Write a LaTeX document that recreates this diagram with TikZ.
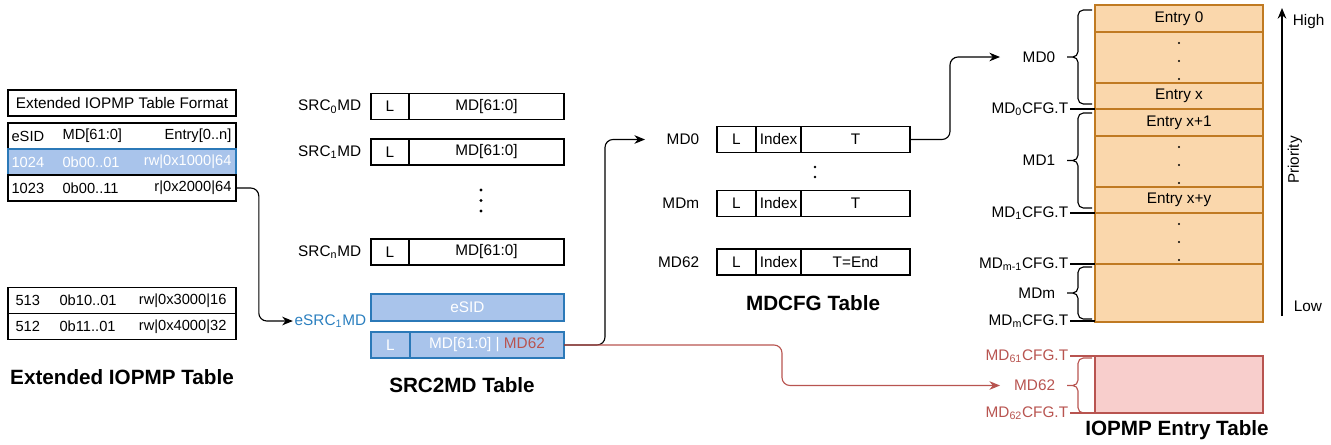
\documentclass[tikz,border=0pt]{standalone}
\usepackage{fontspec}
\setmainfont{Liberation Sans}
\usepackage{tikz}
\usetikzlibrary{arrows.meta,positioning,calc}
\definecolor{tblBlue}{HTML}{A9C4EB}
\definecolor{tblEdge}{HTML}{2B79B8}
\definecolor{srcText}{HTML}{2B7FBF}
\definecolor{mdRed}{HTML}{B85450}
\definecolor{mdRedFill}{HTML}{F8CECC}
\definecolor{entFill}{HTML}{FAD7AC}
\definecolor{entEdge}{HTML}{C07A22}
\newcommand{\upx}{0.75pt}
\newcommand{\txt}{\fontsize{11.5}{13}\selectfont}
\newcommand{\smalltxt}{\fontsize{11}{12}\selectfont}
\newcommand{\ttl}{\bfseries\fontsize{15.5}{18}\selectfont}

\begin{document}
\begin{tikzpicture}[x=0.75pt,y=-0.75pt,>={Stealth[length=8pt,width=6.5pt]},line width=0.85pt,
  box/.style={draw,outer sep=0pt,inner sep=0pt,minimum height=26*\upx,font=\txt},
  bluebox/.style={box,draw=tblEdge,fill=tblBlue,text=white},
  row/.style={draw,outer sep=0pt,inner sep=0pt,minimum width=228*\upx,minimum height=26*\upx},
  cellt/.style={font=\smalltxt,inner sep=0pt},
  lbl/.style={font=\txt,inner sep=1pt},
  heading/.style={font=\ttl},
  entry/.style={draw=entEdge,fill=entFill,outer sep=0pt,inner sep=0pt,minimum width=168*\upx,font=\txt},
  link/.style={->,rounded corners=6pt}]
  \useasboundingbox (0,0) rectangle (1331,444);

  % extended IOPMP table
  \node[row,font=\txt] (fmt) at (122,103) {Extended IOPMP Table Format};
  \node[row] (hd) at (122,136) {};
  \node[row,draw=tblEdge,fill=tblBlue] (r1) at (122,162) {};
  \node[row] (r2) at (122,188) {};
  \node[row] (r3) at (122,300.5) {};
  \node[row] (r4) at (122,326.5) {};
  \foreach \r/\a/\b/\c/\col in {hd/eSID/MD[61:0]/Entry[0..n]/black,
      r1/1024/0b00..01/rw|0x1000|64/white, r2/1023/0b00..11/r|0x2000|64/black} {
    \node[cellt,text=\col,anchor=west] at ($(\r.west)+(3,0)$) {\a};
    \node[cellt,text=\col,anchor=west] at ($(\r.west)+(54,0)$) {\b};
    \node[cellt,text=\col,anchor=east] at ($(\r.east)+(-4,0)$) {\c};
  }
  \foreach \r/\a/\b/\c in {r3/513/0b10..01/rw|0x3000|16, r4/512/0b11..01/rw|0x4000|32} {
    \node[cellt,anchor=west] at ($(\r.west)+(7,0)$) {\a};
    \node[cellt,anchor=west] at ($(\r.west)+(51,0)$) {\b};
    \node[cellt,anchor=east] at ($(\r.east)+(-9,0)$) {\c};
  }
  \node[heading] (t1) at (122,377) {Extended IOPMP Table};

  % SRC2MD table
  \foreach \i/\y in {0/106.5,1/152,n/252} {
    \node[box,minimum width=38*\upx] (L\i) at (390,\y) {L};
    \node[box,minimum width=155*\upx,right=0pt of L\i] (M\i) {MD[61:0]};
    \node[lbl,left=6pt of L\i] (S\i) {SRC\textsubscript{\i}MD};
  }
  \foreach \y in {190,200.5,211} \fill (481,\y) circle[radius=1.3pt];
  \node[bluebox,minimum width=193*\upx,minimum height=27*\upx] (eid) at (467.5,307.5) {eSID};
  \node[bluebox,minimum width=39*\upx] (eL) at (390.5,345) {L};
  \node[bluebox,minimum width=154*\upx,right=0pt of eL] (eM) {MD[61:0] | \textcolor{mdRed}{MD62}};
  \node[lbl,text=srcText,anchor=east] (esrc) at (368,321) {eSRC\textsubscript{1}MD};
  \node[heading] (t2) at (462,385) {SRC2MD Table};

  % MDCFG table
  \foreach \i/\y/\lab in {0/139.5/T, m/203.5/T, 62/262/T=End} {
    \node[box,minimum width=39*\upx] (cL\i) at (736.5,\y) {L};
    \node[box,minimum width=45*\upx,right=0pt of cL\i] (cI\i) {Index};
    \node[box,minimum width=109*\upx,right=0pt of cI\i] (cT\i) {\lab};
    \node[lbl,left=12pt of cL\i] (cN\i) {MD\i};
  }
  \foreach \y in {167,177} \fill (815,\y) circle[radius=1pt];
  \node[heading] (t3) at (813,303) {MDCFG Table};

  % IOPMP entry table
  \foreach \nm/\ya/\yb/\lab in {e0/5/32/Entry 0, d0/32/83/, ex/83/109/Entry x,
      ex1/109/136/Entry x+1, d1/136/187/, exy/187/213/Entry x+y, d2/213/264/, eend/264/322/}
    \node[entry,minimum height={(\yb-\ya)*\upx},anchor=north] (\nm) at (1179,\ya) {\lab};
  \foreach \nm in {d0,d1,d2}
    \foreach \k in {11,29,47} \fill ($(\nm.north)+(0,\k)$) circle[radius=0.8pt];
  \node[entry,draw=mdRed,fill=mdRedFill,minimum height=57*\upx,anchor=north] (e62) at (1179,356) {};
  \node[heading] (t4) at (1177,430) {IOPMP Entry Table};

  % brackets and CFG.T marks
  \foreach \ya/\yb/\col in {10/104/black,113/208/black,267/319/black,358/413/mdRed}
    \draw[\col,rounded corners=4pt] (1092,\ya) -| (1078,{(\ya+\yb)/2}) -- (1067,{(\ya+\yb)/2})
      (1092,\yb) -| (1078,{(\ya+\yb)/2}) -- (1067,{(\ya+\yb)/2});
  \foreach \nm/\y/\lab/\col in {l0/57/MD0/black, l1/160.5/MD1/black, lm/293/MDm/black, l62/385.5/MD62/mdRed}
    \node[lbl,text=\col,anchor=east] (\nm) at (1057,\y) {\lab};
  \foreach \nm/\y/\s/\col in {c0/109/0/black, c1/213/1/black, cm1/264/m-1/black,
      cm/321/m/black, c61/356/61/mdRed, c62/413/62/mdRed} {
    \node[lbl,text=\col,anchor=east] (\nm) at (1070,\y) {MD\textsubscript{\s}CFG.T};
    \draw[\col] (\nm.east) -- (\nm.east -| e0.west);
  }

  % priority axis
  \coordinate (lowEnd) at (1282,316);
  \coordinate (highEnd) at (1282,8);
  \draw[->] (lowEnd) -- (highEnd);
  \node[lbl,anchor=west] (hi) at (1291,22) {High};
  \node[lbl,anchor=west] (lo) at (1292,306) {Low};
  \node[lbl,rotate=90] (prio) at (1295,160) {Priority};

  % links
  \coordinate (toMD0) at (645,139.5);
  \coordinate (toGrp0) at (1000,57);
  \coordinate (toGrp62) at (1000,385.5);
  \draw[link] (r2.east) -| ($(esrc.west)+(-34,0)$) -- (esrc.west);
  \draw[link] (eM.east) -| ($(toMD0)+(-40,0)$) -- (toMD0);
  \draw[link] (cT0.east) -| ($(toGrp0)+(-50,0)$) -- (toGrp0);
  \draw[link,mdRed] (eM.east) -| ($(toGrp62)+(-218,0)$) -- (toGrp62);
\end{tikzpicture}
\end{document}
